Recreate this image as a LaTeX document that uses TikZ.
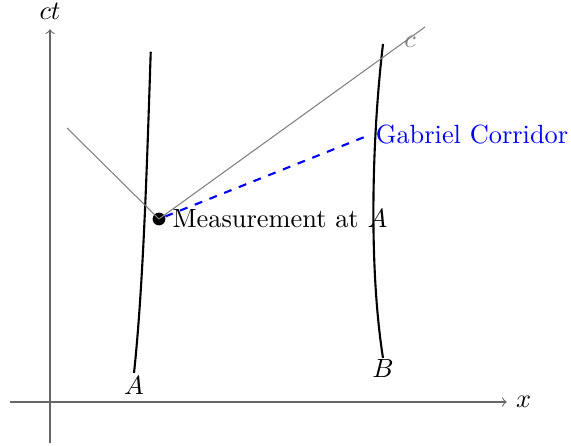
\documentclass[tikz,border=0pt]{standalone}
\usepackage{xcolor,tikz}
\usetikzlibrary{positioning}
\tikzset{axis/.style={->,black!60}, wline/.style={thick,black}, lcone/.style={gray,thin}, corridor/.style={blue,dashed,thick}, event/.style={circle,fill=black,inner sep=0pt,minimum size=1.7mm}}
\begin{document}
\begin{tikzpicture}[x=1cm,y=1cm]
\useasboundingbox (-0.667,-0.587) rectangle (6.947,5.36);
\coordinate(xl)at(-0.54,0);\coordinate(xr)at(6.09,0);\coordinate(yb)at(0,-0.55);\coordinate(yt)at(0,4.97);
\draw[axis](xl)--(xr)node[right,text=black]{$x$};\draw[axis](yb)--(yt)node[above,text=black]{$ct$};
\coordinate(a0)at(1.12,0.387);\coordinate(a1)at(1.343,4.67);\coordinate(b0)at(4.44,0.587);\coordinate(b1)at(4.44,4.773);
\draw[wline](a0)..controls(1.25,1.6)and(1.3,3.4)..(a1);\draw[wline](b0)..controls(4.25,1.8)and(4.29,3.5)..(b1);
\node[below,inner sep=1pt]at(a0){$A$};\node[below,inner sep=0.5pt]at(b0){$B$};
\node[event](e)at(1.453,2.44){};\coordinate(cl)at(0.227,3.653);\coordinate(cr)at(5.0,5.0);\coordinate(g)at(4.26,3.56);
\draw[lcone](e.center)--(cl);\draw[lcone](e.center)--(cr)node[below left,text=gray]{$c$};
\draw[corridor](e)--(g)node[right,text=blue,inner sep=2pt]{Gabriel Corridor};
\node[right=-1pt of e]{Measurement at $A$};
\end{tikzpicture}
\end{document}
